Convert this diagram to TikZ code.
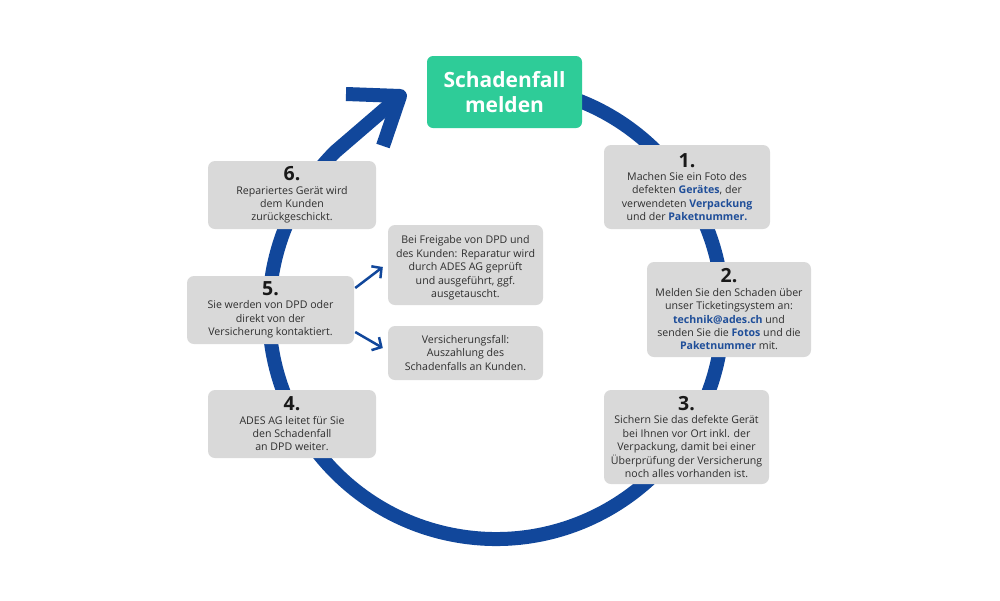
\documentclass[tikz,border=0pt]{standalone}
\usepackage{fontspec}
\setmainfont{Open Sans}
\usetikzlibrary{arrows.meta,calc}
\definecolor{ringblue}{HTML}{11479B}
\definecolor{mint}{HTML}{2ECC98}
\definecolor{boxgray}{HTML}{D9D9D9}
\definecolor{hlblue}{HTML}{1F4E99}
\definecolor{txt}{HTML}{2E2E2E}
\newcommand{\blu}[1]{\textcolor{hlblue}{\textbf{#1}}}
\newcommand{\stepno}[1]{{\fontsize{19.5}{13.3}\selectfont\bfseries\color{black!90}#1}}
\begin{document}
\begin{tikzpicture}[x=1pt,y=1pt,
  box/.style={fill=boxgray, rounded corners=7, align=center, text=txt,
    font=\fontsize{10.6}{13.4}\selectfont, inner sep=0pt},
  title/.style={fill=mint, rounded corners=6, align=center, text=white,
    font=\fontsize{21}{25}\selectfont\bfseries, inner sep=0pt},
  ring/.style={draw=ringblue, line width=14pt},
  thinarrow/.style={draw=ringblue, line width=2.5pt, -{Straight Barb[length=7pt,width=15pt]}}]
\useasboundingbox (0,0) rectangle (1000,-600);
\fill[white] (0,0) rectangle (1000,-600);

\coordinate (c) at (496,-312);
\coordinate (tip) at (400,-96);
\coordinate (armA) at (346,-94);
\coordinate (armB) at (383,-146);

% ring with arrow
\draw[ring, line join=round] ($(c)+(80:227)$) arc[start angle=80, end angle=-225, radius=227] -- (tip);
\draw[ring, line join=round] (armA) -- (tip) -- (armB);

% boxes
\node[title, minimum width=155, minimum height=72] (start) at (504.5,-92) {Schadenfall\\melden};

\node[box, minimum width=166, minimum height=84] (b1) at (687,-187)
  {\stepno{1.}\\Machen Sie ein Foto des\\defekten \blu{Gerätes}, der\\verwendeten \blu{Verpackung}\\und der \blu{Paketnummer.}};
\node[box, minimum width=164, minimum height=95] (b2) at (729,-309.5)
  {\stepno{2.}\\Melden Sie den Schaden über\\unser Ticketingsystem an:\\\blu{technik@ades.ch} und\\senden Sie die \blu{Fotos} und die\\\blu{Paketnummer} mit.};
\node[box, minimum width=165, minimum height=94] (b3) at (686.5,-437)
  {\stepno{3.}\\Sichern Sie das defekte Gerät\\bei Ihnen vor Ort inkl. der\\Verpackung, damit bei einer\\Überprüfung der Versicherung\\noch alles vorhanden ist.};
\node[box, minimum width=168, minimum height=68] (b4) at (292,-424)
  {\stepno{4.}\\ADES AG leitet für Sie\\den Schadenfall\\an DPD weiter.};
\node[box, minimum width=167, minimum height=68] (b5) at (270.5,-310)
  {\stepno{5.}\\Sie werden von DPD oder\\direkt von der\\Versicherung kontaktiert.};
\node[box, minimum width=168, minimum height=68] (b6) at (292,-195)
  {\stepno{6.}\\Repariertes Gerät wird\\dem Kunden\\zurückgeschickt.};
\node[box, minimum width=155, minimum height=80] (bA) at (465.5,-265) {};
\node[text=txt, font=\fontsize{10.6}{13.4}\selectfont, align=center, inner sep=0pt] (bAt) at ($(bA.center)+(0,-3)$)
  {Bei Freigabe von DPD und\\des Kunden: Reparatur wird\\durch ADES AG geprüft\\und ausgeführt, ggf.\\ausgetauscht.};
\node[box, minimum width=155, minimum height=54] (bB) at (465.5,-353)
  {Versicherungsfall:\\Auszahlung des\\Schadenfalls an Kunden.};

% thin arrows
\draw[thinarrow] ($(b5.east)+(1,22)$) -- ($(bA.west)+(-5,-2)$);
\draw[thinarrow] ($(b5.east)+(1,-22)$) -- ($(bB.west)+(-5,5)$);
\end{tikzpicture}
\end{document}
